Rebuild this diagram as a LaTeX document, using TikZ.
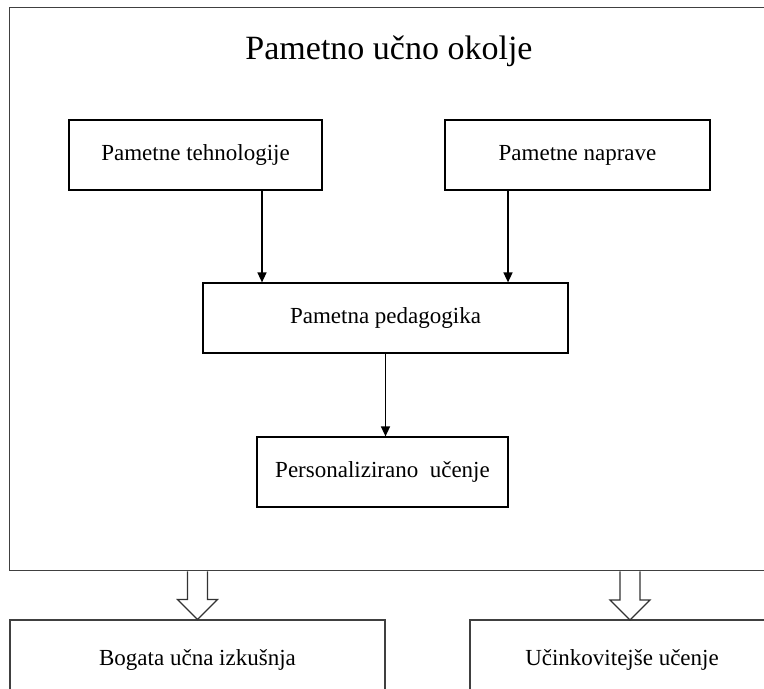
\documentclass[tikz,border=0pt]{standalone}
\usepackage{fontspec}
\setmainfont{Liberation Serif}
\usetikzlibrary{arrows.meta,calc}
\tikzset{
  box/.style={shape=rectangle,draw=black,line width=0.6pt,minimum height=35pt,align=center,font=\fontsize{11.5}{14}\selectfont},
  flow/.style={-{Triangle[length=5pt,width=4.5pt]},line width=0.75pt},
  hollow/.style={draw=black!80,line width=0.6pt,fill=white}
}
\begin{document}
\begin{tikzpicture}[x=0.5pt,y=-0.5pt]
        \useasboundingbox (0,0) rectangle (764,689);
        \clip (0,0) rectangle (764,689);

        \node[shape=rectangle,draw=black!75,line width=0.7pt,minimum width=390pt,minimum height=281.5pt,anchor=north west] (env) at (9,7) {};
        \node[draw=none,font=\fontsize{17}{20}\selectfont] (title) at (389,51) {Pametno učno okolje};

        \node[box,minimum width=126.5pt] (tech) at (195.5,155) {Pametne tehnologije};
        \node[box,minimum width=132.5pt] (dev) at (577.5,155) {Pametne naprave};
        \node[box,minimum width=182.5pt] (ped) at (385.5,318) {Pametna pedagogika};
        \node[box,minimum width=125.5pt] (pers) at (382.5,472) {Personalizirano\ \ učenje};

        \node[box,draw=black!75,minimum width=187.5pt,minimum height=40pt] (rich) at (197.5,660) {Bogata učna izkušnja};
        \node[box,draw=black!75,minimum width=152pt,minimum height=40pt] (eff) at (622,660) {Učinkovitejše učenje};

        \draw[flow] ([xshift=33.25pt]tech.south) -- ([xshift=33.25pt]tech.south |- ped.north);
        \draw[flow] ([xshift=-34.75pt]dev.south) -- ([xshift=-34.75pt]dev.south |- ped.north);
        \draw[flow] (ped.south) -- (ped.south |- pers.north);

        % hollow block arrows out of the environment
        \coordinate (h1) at (rich.north);
        \coordinate (h2) at (630,620);
        \coordinate (t1) at (env.south -| h1);
        \coordinate (t2) at (env.south -| h2);
        \draw[hollow] ($(t1)+(-10,0)$) -- ($(h1)+(-10,-20)$) -- ($(h1)+(-20,-20)$)
            -- (h1) -- ($(h1)+(20,-20)$) -- ($(h1)+(10,-20)$) -- ($(t1)+(10,0)$);
        \draw[hollow] ($(t2)+(-10,0)$) -- ($(h2)+(-10,-20)$) -- ($(h2)+(-20,-20)$)
            -- (h2) -- ($(h2)+(20,-20)$) -- ($(h2)+(10,-20)$) -- ($(t2)+(10,0)$);
    \end{tikzpicture}
\end{document}
